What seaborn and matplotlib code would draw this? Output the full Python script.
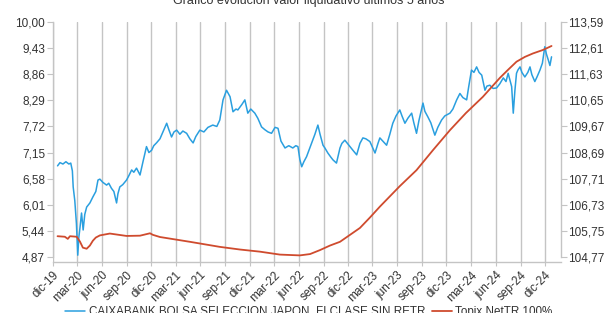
import pandas as pd
import matplotlib
matplotlib.use("Agg")
import matplotlib.pyplot as plt
import seaborn as sns

# Valor liquidativo del fondo (eje izquierdo)
fondo_fechas = [
    "2019-12-19", "2019-12-28", "2020-01-08", "2020-01-19", "2020-01-30", "2020-02-06",
    "2020-02-12", "2020-02-15", "2020-02-21", "2020-02-27", "2020-03-01", "2020-03-03",
    "2020-03-07", "2020-03-11", "2020-03-17", "2020-03-23", "2020-03-29", "2020-04-05",
    "2020-04-17", "2020-04-28", "2020-05-09", "2020-05-17", "2020-05-24", "2020-06-04",
    "2020-06-18", "2020-06-26", "2020-07-06", "2020-07-15", "2020-07-25", "2020-07-30",
    "2020-08-06", "2020-08-17", "2020-08-31", "2020-09-09", "2020-09-19", "2020-09-27",
    "2020-10-07", "2020-10-20", "2020-10-31", "2020-11-13", "2020-11-22", "2020-12-02",
    "2020-12-10", "2020-12-20", "2021-01-02", "2021-01-13", "2021-01-27", "2021-02-04",
    "2021-02-14", "2021-02-23", "2021-03-05", "2021-03-17", "2021-03-28", "2021-04-11",
    "2021-04-23", "2021-05-05", "2021-05-15", "2021-05-30", "2021-06-14", "2021-06-29",
    "2021-07-17", "2021-08-01", "2021-08-12", "2021-08-24", "2021-09-06", "2021-09-19",
    "2021-09-30", "2021-10-11", "2021-10-18", "2021-11-02", "2021-11-13", "2021-11-24",
    "2021-12-05", "2021-12-20", "2021-12-31", "2022-01-14", "2022-01-26", "2022-02-07",
    "2022-02-20", "2022-03-05", "2022-03-16", "2022-03-27", "2022-04-11", "2022-04-25",
    "2022-05-10", "2022-05-21", "2022-05-29", "2022-06-05", "2022-06-12", "2022-06-20",
    "2022-06-30", "2022-07-09", "2022-07-19", "2022-07-31", "2022-08-11", "2022-08-19",
    "2022-08-30", "2022-09-06", "2022-09-17", "2022-09-28", "2022-10-06", "2022-10-19",
    "2022-11-01", "2022-11-08", "2022-11-19", "2022-12-08", "2022-12-19", "2023-01-02",
    "2023-01-14", "2023-01-25", "2023-02-05", "2023-02-20", "2023-02-27", "2023-03-11",
    "2023-03-22", "2023-03-29", "2023-04-09", "2023-04-23", "2023-05-05", "2023-05-16",
    "2023-05-28", "2023-06-11", "2023-06-19", "2023-06-30", "2023-07-11", "2023-07-25",
    "2023-08-02", "2023-08-12", "2023-08-21", "2023-09-05", "2023-09-12", "2023-09-23",
    "2023-10-04", "2023-10-19", "2023-10-30", "2023-11-13", "2023-11-25", "2023-12-14",
    "2023-12-25", "2024-01-08", "2024-01-20", "2024-01-31", "2024-02-14", "2024-02-22",
    "2024-03-03", "2024-03-12", "2024-03-22", "2024-03-31", "2024-04-10", "2024-04-22",
    "2024-04-29", "2024-05-10", "2024-05-22", "2024-06-04", "2024-06-16", "2024-06-29",
    "2024-07-09", "2024-07-17", "2024-07-25", "2024-07-30", "2024-08-05", "2024-08-11",
    "2024-08-17", "2024-08-22", "2024-08-30", "2024-09-06", "2024-09-17", "2024-09-28",
    "2024-10-06", "2024-10-13", "2024-10-24", "2024-11-01", "2024-11-12", "2024-11-21",
    "2024-11-30", "2024-12-06", "2024-12-13", "2024-12-19", "2024-12-25",
]
fondo_valor = [
    6.86, 6.93, 6.90, 6.95, 6.90, 6.92,
    6.75, 6.40, 6.10, 5.60, 5.17, 4.91,
    5.30, 5.50, 5.83, 5.46, 5.80, 5.96,
    6.05, 6.18, 6.30, 6.55, 6.57, 6.50,
    6.44, 6.48, 6.37, 6.30, 6.05, 6.25,
    6.40, 6.45, 6.55, 6.65, 6.77, 6.72,
    6.81, 6.66, 6.95, 7.28, 7.15, 7.20,
    7.30, 7.36, 7.45, 7.60, 7.79, 7.65,
    7.49, 7.60, 7.64, 7.55, 7.62, 7.57,
    7.45, 7.36, 7.50, 7.64, 7.60, 7.70,
    7.75, 7.72, 7.86, 8.30, 8.51, 8.37,
    8.04, 8.10, 8.08, 8.20, 8.30, 8.01,
    8.10, 8.01, 7.90, 7.71, 7.65, 7.60,
    7.57, 7.70, 7.68, 7.40, 7.25, 7.30,
    7.25, 7.30, 7.28, 7.00, 6.84, 6.95,
    7.06, 7.20, 7.36, 7.55, 7.75, 7.55,
    7.31, 7.25, 7.14, 7.05, 6.99, 6.92,
    7.25, 7.35, 7.42, 7.28, 7.20, 7.10,
    7.35, 7.47, 7.45, 7.39, 7.30, 7.14,
    7.35, 7.47, 7.40, 7.31, 7.55, 7.79,
    7.95, 8.08, 7.95, 7.79, 7.90, 8.01,
    7.80, 7.57, 7.85, 8.23, 8.05, 7.93,
    7.80, 7.53, 7.70, 7.86, 7.95, 8.01,
    8.10, 8.30, 8.44, 8.35, 8.30, 8.60,
    8.95, 8.90, 9.02, 8.90, 8.84, 8.51,
    8.60, 8.62, 8.55, 8.56, 8.65, 8.78,
    8.70, 8.88, 8.70, 8.59, 8.01, 8.50,
    8.88, 8.95, 9.02, 8.90, 8.80, 8.90,
    9.02, 8.85, 8.70, 8.80, 8.95, 9.10,
    9.46, 9.30, 9.17, 9.05, 9.24,
]

# Indice de referencia (eje derecho)
indice_fechas = [
    "2019-12-19", "2020-01-15", "2020-01-26", "2020-02-03", "2020-02-28", "2020-03-11",
    "2020-03-22", "2020-04-05", "2020-04-17", "2020-04-28", "2020-05-09", "2020-05-24",
    "2020-06-30", "2020-08-31", "2020-10-20", "2020-11-26", "2020-12-07", "2021-01-02",
    "2021-04-23", "2021-08-12", "2021-10-26", "2022-01-08", "2022-03-23", "2022-06-05",
    "2022-07-13", "2022-08-19", "2022-09-25", "2022-11-01", "2022-12-08", "2023-01-14",
    "2023-02-20", "2023-03-29", "2023-06-11", "2023-08-12", "2023-10-12", "2023-12-14",
    "2024-02-11", "2024-04-14", "2024-06-16", "2024-07-16", "2024-08-17", "2024-09-17",
    "2024-10-17", "2024-11-23", "2024-12-25",
]
indice_valor = [
    105.55, 105.53, 105.45, 105.55, 105.53, 105.35,
    105.12, 105.08, 105.20, 105.38, 105.50, 105.58,
    105.65, 105.56, 105.57, 105.66, 105.60, 105.52,
    105.34, 105.15, 105.05, 104.97, 104.86, 104.83,
    104.88, 105.03, 105.20, 105.34, 105.60, 105.86,
    106.25, 106.66, 107.43, 108.03, 108.78, 109.53,
    110.17, 110.78, 111.49, 111.79, 112.10, 112.28,
    112.41, 112.54, 112.69,
]

ticks_izq = [4.87, 5.44, 6.01, 6.58, 7.15, 7.72, 8.29, 8.86, 9.43, 10.00]
ticks_der = [104.77, 105.75, 106.73, 107.71, 108.69, 109.67, 110.65, 111.63, 112.61, 113.59]
meses_ticks = pd.date_range("2019-12-01", "2024-12-01", freq="3MS")
etiquetas_x = ["dic-19", "mar-20", "jun-20", "sep-20", "dic-20", "mar-21", "jun-21",
               "sep-21", "dic-21", "mar-22", "jun-22", "sep-22", "dic-22", "mar-23",
               "jun-23", "sep-23", "dic-23", "mar-24", "jun-24", "sep-24", "dic-24"]

nombre_fondo = "CAIXABANK BOLSA SELECCION JAPON, FI CLASE SIN RETR"
nombre_indice = "Topix NetTR 100%"

AZUL = "#2a9fdf"
ROJO = "#cf4b2e"
GRIS = "#c4c4c4"
TEXTO = "#333333"

sns.set_style("white")
plt.rcParams["font.family"] = ["Liberation Sans", "DejaVu Sans"]

df_fondo = pd.DataFrame({"fecha": pd.to_datetime(fondo_fechas), "valor": fondo_valor})
df_indice = pd.DataFrame({"fecha": pd.to_datetime(indice_fechas), "valor": indice_valor})

W, H = 608, 313
fig = plt.figure(figsize=(W / 100, H / 100), dpi=100)
ax = fig.add_axes([52.7 / W, 1 - 262 / H, (560.7 - 52.7) / W, (262 - 22) / H])
ax2 = ax.twinx()

sns.lineplot(data=df_fondo, x="fecha", y="valor", ax=ax, color=AZUL, lw=1.1, label=nombre_fondo)
sns.lineplot(data=df_indice, x="fecha", y="valor", ax=ax2, color=ROJO, lw=1.3, label=nombre_indice)

ax.set_xlim(pd.Timestamp("2019-12-01"), pd.Timestamp("2025-01-28"))
ax.set_ylim(4.761, 10.0)
ax2.set_ylim(104.582, 113.59)

ax.set_xticks(meses_ticks)
ax.set_xticklabels(etiquetas_x, rotation=45, ha="right", rotation_mode="anchor")
ax.set_yticks(ticks_izq)
ax.set_yticklabels([f"{v:.2f}".replace(".", ",") for v in ticks_izq])
ax2.set_yticks(ticks_der)
ax2.set_yticklabels([f"{v:.2f}".replace(".", ",") for v in ticks_der])

ax.set_xlabel("")
ax.set_ylabel("")
ax2.set_ylabel("")

ax.grid(axis="x", color=GRIS, lw=1.0)
ax.grid(axis="y", visible=False)
ax2.grid(False)

for a in (ax, ax2):
    for s in a.spines.values():
        s.set_visible(False)
ax.spines["left"].set_visible(True)
ax.spines["left"].set_bounds(4.87, 10.0)
ax.spines["bottom"].set_visible(True)
ax2.spines["right"].set_visible(True)
ax2.spines["right"].set_bounds(104.77, 113.59)
for s in (ax.spines["left"], ax.spines["bottom"], ax2.spines["right"]):
    s.set_color(GRIS)
    s.set_linewidth(1.0)

ax.tick_params(axis="y", left=True, length=4, width=0.8, color=GRIS, pad=1.5,
               labelsize=8.5, labelcolor=TEXTO)
ax2.tick_params(axis="y", right=True, length=4, width=0.8, color=GRIS, pad=1.5,
                labelsize=8.5, labelcolor=TEXTO)
ax.tick_params(axis="x", bottom=True, length=3, width=0.8, color=GRIS, pad=2,
               labelsize=8.5, labelcolor=TEXTO)

ax.get_legend().remove()
ax2.get_legend().remove()
h1, l1 = ax.get_legend_handles_labels()
h2, l2 = ax2.get_legend_handles_labels()
fig.legend(h1 + h2, l1 + l2, loc="center", bbox_to_anchor=(309 / W, 1 - 312 / H),
           ncol=2, frameon=False, fontsize=8.4, handlelength=1.7, handletextpad=0.3,
           columnspacing=0.6, borderpad=0, borderaxespad=0, labelcolor=TEXTO)

fig.text(309 / W, 1 - 4 / H, "Gráfico evolución valor liquidativo últimos 5 años",
         ha="center", va="baseline", fontsize=9, color=TEXTO)

fig.savefig("out.png", dpi=100)
